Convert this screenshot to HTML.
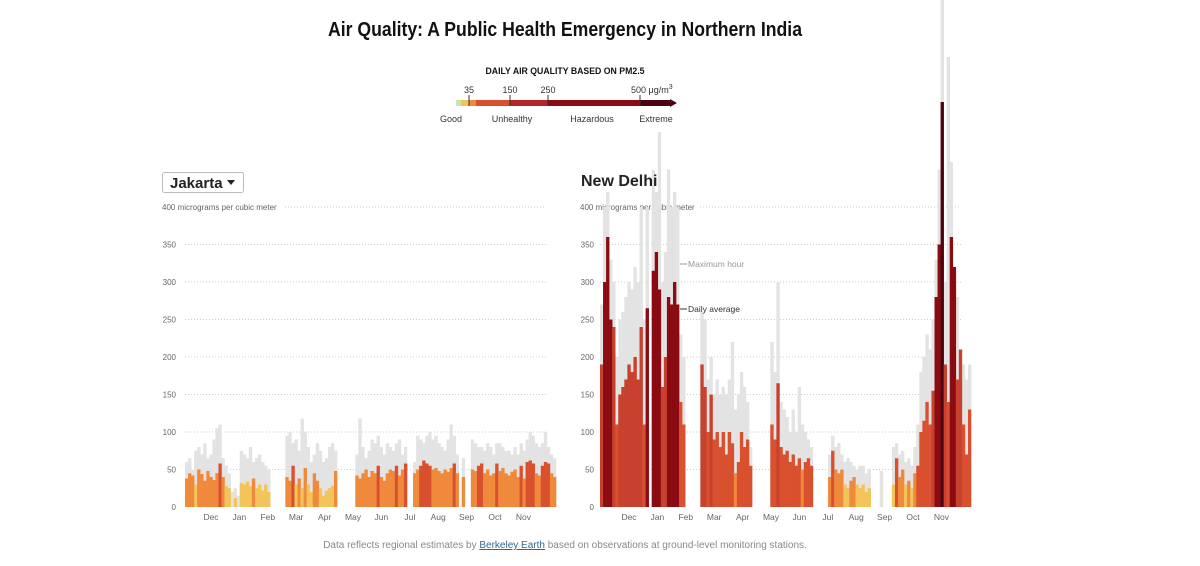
<!DOCTYPE html>
<html><head><meta charset="utf-8"><style>
body{margin:0;background:#fff;width:1200px;height:566px;overflow:hidden;font-family:"Liberation Sans",sans-serif}
svg{display:block}
</style></head><body>
<svg id="svg" width="1200" height="566">
<text x="565" y="36" text-anchor="middle" font-size="20" font-weight="bold" fill="#121212" textLength="474" lengthAdjust="spacingAndGlyphs">Air Quality: A Public Health Emergency in Northern India</text>
<g>
<text x="565" y="74" text-anchor="middle" font-size="9" font-weight="bold" fill="#121212" textLength="159" lengthAdjust="spacingAndGlyphs">DAILY AIR QUALITY BASED ON PM2.5</text>
<rect x="456" y="100" width="5" height="6" fill="#cfe3b0"/>
<rect x="461" y="100" width="8" height="6" fill="#f2c45a"/>
<rect x="469" y="100" width="7" height="6" fill="#ef8a3c"/>
<rect x="476" y="100" width="34" height="6" fill="#d9502f"/>
<rect x="510" y="100" width="38" height="6" fill="#b5262a"/>
<rect x="548" y="100" width="92" height="6" fill="#8b0b12"/>
<rect x="640" y="100" width="30" height="6" fill="#4a0410"/>
<polygon points="670,99 677,103 670,107" fill="#4a0410"/>
<g stroke="#333" stroke-width="1"><line x1="469" y1="95" x2="469" y2="106"/><line x1="510" y1="95" x2="510" y2="106"/><line x1="548" y1="95" x2="548" y2="106"/><line x1="640" y1="95" x2="640" y2="106"/></g>
<g font-size="9" fill="#333">
<text x="469" y="93" text-anchor="middle">35</text><text x="510" y="93" text-anchor="middle">150</text><text x="548" y="93" text-anchor="middle">250</text><text x="631" y="93">500 μg/m<tspan font-size="7" dy="-4">3</tspan></text>
<text x="451" y="122" text-anchor="middle">Good</text><text x="512" y="122" text-anchor="middle">Unhealthy</text><text x="592" y="122" text-anchor="middle">Hazardous</text><text x="656" y="122" text-anchor="middle">Extreme</text>
</g></g>
<g>
<rect x="162.5" y="172.5" width="81" height="20" fill="#fff" stroke="#bbb" rx="2"/>
<text x="170" y="188" font-size="15" font-weight="bold" fill="#222">Jakarta</text>
<polygon points="227,180 235,180 231,185" fill="#222"/>
</g>
<g id="left"></g>
<g id="right"></g>
<text x="581" y="186" font-size="16" font-weight="bold" fill="#222">New Delhi</text>
<g>
<line x1="680" y1="264" x2="687" y2="264" stroke="#999"/><text x="688" y="267" font-size="8.5" fill="#999">Maximum hour</text>
<line x1="680" y1="309" x2="687" y2="309" stroke="#333"/><text x="688" y="312" font-size="8.5" fill="#333">Daily average</text>
</g>
<text x="565" y="548" text-anchor="middle" font-size="10" fill="#888">Data reflects regional estimates by <tspan fill="#326891" text-decoration="underline">Berkeley Earth</tspan> based on observations at ground-level monitoring stations.</text>
</svg>
<script>
const months=["Dec","Jan","Feb","Mar","Apr","May","Jun","Jul","Aug","Sep","Oct","Nov"];
const yTicks=[0,50,100,150,200,250,300,350,400];
const jakartaAvg=[38,45,42,30,50,44,35,48,40,36,45,58,40,28,25,0,12,0,32,30,34,28,38,25,30,22,30,20,0,0,0,0,0,40,35,55,30,38,25,52,30,20,45,35,25,15,22,25,28,48,0,0,0,0,0,0,42,38,45,50,40,48,45,55,40,35,45,50,48,55,42,50,58,0,0,45,50,55,62,58,55,50,52,48,45,50,47,52,58,45,0,40,0,0,50,48,55,58,45,50,42,45,58,48,52,45,42,47,50,40,55,38,60,62,58,45,42,55,60,58,45,40];
const jakartaMax=[60,65,50,75,80,70,85,65,70,90,105,110,65,55,45,20,25,15,75,70,65,80,60,65,70,60,55,50,0,0,0,0,0,95,100,85,90,75,118,100,80,60,70,85,75,60,65,80,85,75,0,0,0,0,0,0,70,118,80,65,75,90,85,95,80,70,85,80,75,85,90,70,80,0,0,60,95,90,85,95,100,90,95,85,80,75,90,110,95,70,0,65,0,0,90,85,80,80,75,85,80,70,85,85,80,75,75,70,80,70,85,75,90,100,95,85,80,85,100,80,70,65];
const delhiAvg=[190,300,360,250,240,110,150,160,170,190,180,200,170,240,110,265,0,315,340,290,160,200,280,270,300,270,140,110,0,0,0,0,0,190,160,100,150,90,100,80,100,70,100,85,45,60,100,80,90,55,0,0,0,0,0,0,110,90,165,80,70,75,60,70,55,65,50,60,65,55,0,0,0,0,0,40,75,50,45,50,30,25,35,40,30,25,30,20,25,0,0,0,0,0,0,0,30,65,40,50,30,35,25,45,55,100,115,140,110,155,280,350,540,190,140,360,320,170,210,110,70,130];
const delhiMax=[270,400,420,330,300,200,250,260,280,300,290,320,300,400,250,400,0,450,420,500,300,340,450,400,420,400,230,200,0,0,0,0,0,260,250,170,200,150,170,150,160,150,170,220,130,150,180,160,140,80,0,0,0,0,0,0,220,180,300,140,130,120,100,130,100,160,110,100,90,80,0,0,0,0,0,70,95,80,85,70,60,65,60,55,50,55,55,45,50,0,0,0,48,0,0,0,80,85,70,75,60,65,55,80,110,180,200,230,210,250,330,450,920,300,600,460,290,280,210,190,170,190];
const NS="http://www.w3.org/2000/svg";
function mk(t,a,p){const e=document.createElementNS(NS,t);for(const k in a)e.setAttribute(k,a[k]);p.appendChild(e);return e;}
function col(v){return v<12?"#cfe3b0":v<35?"#f2c45a":v<55?"#ef8a3c":v<150?"#d9502f":v<250?"#c8402e":v<500?"#8b0b12":"#4a0410";}
function panel(g,x0,x1,labX,avg,mx,monthX0){
  const y=v=>507-v*0.75;
  const bw=(x1-x0)/avg.length;
  const x=i=>x0+i*bw;
  yTicks.forEach(t=>{
    if(t>0){const l=mk("line",{x1:t===400?x0+100:x0,x2:x1-10,y1:y(t),y2:y(t),stroke:"#ccc","stroke-dasharray":"1,2"},g);
    
    }
    const tx=mk("text",{x:t===400?labX-14:labX,y:y(t)+3,"font-size":8,fill:"#666","text-anchor":t===400?"start":"end"},g);
    tx.textContent=t===400?"400 micrograms per cubic meter":t;
    
    
  });
  mx.forEach((v,i)=>{if(v>0){const r=mk("rect",{x:x(i),y:y(v),width:bw+0.3,height:v*0.75,fill:"#e3e3e3"},g);
    
    }});
  avg.forEach((v,i)=>{if(v>0){const r=mk("rect",{x:x(i),y:y(v),width:bw+0.3,height:v*0.75,fill:col(v)},g);
    
    }});
  months.forEach((m,i)=>{const t=mk("text",{x:monthX0+i*28.4,y:520,"font-size":8.5,fill:"#666","text-anchor":"middle"},g);t.textContent=m;
    
    });
}
panel(document.getElementById("left"),185,556,176,jakartaAvg,jakartaMax,211);
panel(document.getElementById("right"),600,971,594,delhiAvg,delhiMax,629);
</script>
</body></html>
